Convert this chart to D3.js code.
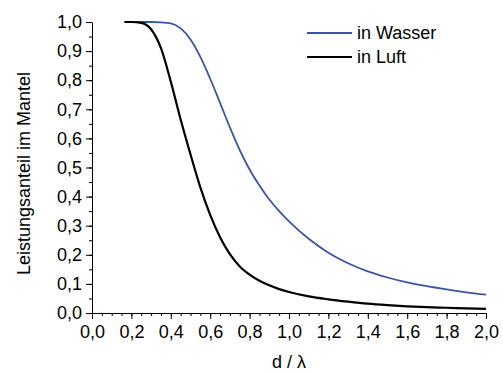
<!DOCTYPE html>
<html>
<head>
<meta charset="utf-8">
<script src="https://cdn.jsdelivr.net/npm/d3@7"></script>
<style>
  body { margin: 0; background: #fff; }
  text { font-family: Arial, "Liberation Sans", sans-serif; }
</style>
</head>
<body>
<svg id="chart" width="503" height="372"></svg>
<script>
// d / lambda
const dValues = [0.165, 0.2, 0.25, 0.3, 0.35, 0.4, 0.45, 0.5, 0.55, 0.6, 0.65, 0.7, 0.75, 0.8, 0.85,
                 0.9, 0.95, 1.0, 1.1, 1.2, 1.3, 1.4, 1.5, 1.6, 1.7, 1.8, 1.9, 2.0];
const inWasser = [1.0, 1.0, 1.0, 1.0, 0.999, 0.995, 0.978, 0.94, 0.88, 0.805, 0.722, 0.638, 0.56, 0.493, 0.438,
                  0.39, 0.35, 0.315, 0.255, 0.207, 0.171, 0.143, 0.122, 0.105, 0.092, 0.081, 0.071, 0.063];
const inLuft = [1.0, 1.0, 0.997, 0.975, 0.91, 0.795, 0.665, 0.545, 0.432, 0.337, 0.26, 0.202, 0.16, 0.132, 0.111,
                0.095, 0.082, 0.072, 0.057, 0.047, 0.039, 0.032, 0.027, 0.023, 0.02, 0.018, 0.016, 0.014];
const seriesNames = ["in Wasser", "in Luft"];
const seriesColors = ["#3a54a6", "#000000"];
const xTicks = d3.range(0, 2.001, 0.2);
const yTicks = d3.range(0, 1.001, 0.1);

const svg = d3.select("#chart");
const mLeft = 92, mRight = 486, mTop = 22, mBottom = 313;

const x = d3.scaleLinear().domain([0, 2]).range([mLeft, mRight]);
const y = d3.scaleLinear().domain([0, 1]).range([mBottom, mTop]);
const fmt = d => d3.format(".1f")(d).replace(".", ",");

// minor ticks first
svg.append("g")
    .attr("transform", `translate(0,${mBottom})`)
    .call(d3.axisBottom(x).tickValues(d3.range(0, 2.001, 0.05)).tickSize(3).tickFormat(""))
    .call(g => g.select(".domain").remove());
svg.append("g")
    .attr("transform", `translate(${mLeft},0)`)
    .call(d3.axisLeft(y).tickValues(d3.range(0, 1.001, 0.05)).tickSize(3).tickFormat(""))
    .call(g => g.select(".domain").remove());

const xAxis = svg.append("g")
    .attr("transform", `translate(0,${mBottom})`)
    .call(d3.axisBottom(x).tickValues(xTicks).tickSize(6).tickSizeOuter(0).tickPadding(6).tickFormat(fmt));
xAxis.selectAll("text").style("font-size", "18px").attr("fill", "#000");

const yAxis = svg.append("g")
    .attr("transform", `translate(${mLeft},0)`)
    .call(d3.axisLeft(y).tickValues(yTicks).tickSize(6).tickSizeOuter(0).tickPadding(4).tickFormat(fmt));
yAxis.selectAll("text").style("font-size", "18px").attr("fill", "#000");

svg.selectAll(".tick line, .domain").attr("stroke", "#000");

// axis titles
svg.append("text")
    .attr("x", x(1))
    .attr("y", 368)
    .attr("text-anchor", "middle")
    .style("font-size", "18px")
    .text("d / λ");

svg.append("text")
    .attr("transform", `translate(30,${(mTop + mBottom) / 2 + 6}) rotate(-90)`)
    .attr("text-anchor", "middle")
    .style("font-size", "18px")
    .text("Leistungsanteil im Mantel");

// curves
const line = d3.line()
    .x((d, i) => x(dValues[i]))
    .y(d => y(d))
    .curve(d3.curveMonotoneX);

[inWasser, inLuft].forEach((vals, k) => {
    svg.append("path")
        .datum(vals)
        .attr("d", line)
        .attr("fill", "none")
        .attr("stroke", seriesColors[k])
        .attr("stroke-width", k === 0 ? 1.8 : 2.2);
});

// legend
const legend = svg.append("g");
seriesNames.forEach((name, k) => {
    const ly = 33 + k * 24;
    legend.append("line")
        .attr("x1", 307).attr("x2", 352)
        .attr("y1", ly).attr("y2", ly)
        .attr("stroke", seriesColors[k])
        .attr("stroke-width", k === 0 ? 1.8 : 2.2);
    legend.append("text")
        .attr("x", 357)
        .attr("y", ly + 6)
        .style("font-size", "18px")
        .text(name);
});
</script>
</body>
</html>
